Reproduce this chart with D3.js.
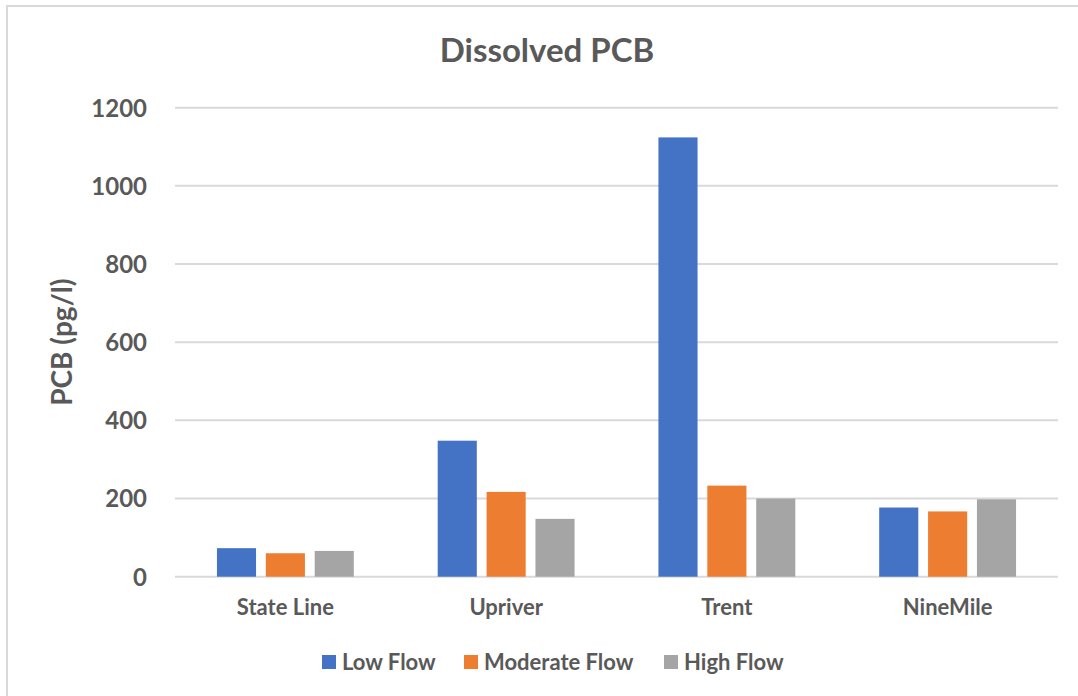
<!DOCTYPE html>
<html>
<head>
<meta charset="utf-8">
<script src="https://cdn.jsdelivr.net/npm/d3@7"></script>
<style>
  html, body { margin: 0; padding: 0; background: #fff; }
  svg { display: block; font-family: Lato, "Open Sans", sans-serif; }
</style>
</head>
<body>
<svg id="chart" width="1078" height="696"></svg>
<script>
const categories = ["State Line", "Upriver", "Trent", "NineMile"];
const seriesNames = ["Low Flow", "Moderate Flow", "High Flow"];
const lowFlow = [73, 348, 1124, 177];
const moderateFlow = [60, 217, 233, 167];
const highFlow = [66, 148, 200, 198];
const yTicks = [0, 200, 400, 600, 800, 1000, 1200];
const colors = ["#4472C4", "#ED7D31", "#A5A5A5"];
const chartTitle = "Dissolved PCB";
const yTitle = "PCB (pg/l)";

const seriesValues = [lowFlow, moderateFlow, highFlow];
const svg = d3.select("#chart");
const textColor = "#595959";

// chart border (left/top visible)
svg.append("rect").attr("x", 7).attr("y", 6).attr("width", 1090).attr("height", 700)
  .attr("fill", "#fff").attr("stroke", "#d9d9d9").attr("stroke-width", 2);

const plot = { left: 175, right: 1058, top: 107.7, bottom: 576.7 };

const x = d3.scaleBand().domain(categories).range([plot.left, plot.right]).padding(0);
const inner = d3.scaleBand().domain(seriesNames)
  .range([x.bandwidth() * 0.19, x.bandwidth() * 0.81]).paddingInner(0.2);
const y = d3.scaleLinear().domain([0, 1200]).range([plot.bottom, plot.top]);

// gridlines
svg.append("g").selectAll("line").data(yTicks).join("line")
  .attr("x1", plot.left).attr("x2", plot.right)
  .attr("y1", d => y(d)).attr("y2", d => y(d))
  .attr("stroke", "#d9d9d9").attr("stroke-width", 2);

// y axis labels
const yAxis = d3.axisLeft(y).tickValues(yTicks).tickFormat(d3.format("d")).tickSize(0).tickPadding(0);
const gy = svg.append("g").attr("transform", `translate(${plot.left - 28},0)`).call(yAxis);
gy.select(".domain").remove();
gy.selectAll("text").attr("fill", textColor).attr("font-size", 24).attr("font-weight", "bold")
  .attr("font-family", "Lato, sans-serif").attr("dy", "0.35em");

// bars
const groups = svg.append("g").selectAll("g").data(categories).join("g")
  .attr("transform", d => `translate(${x(d)},0)`);
groups.selectAll("rect").data((c, ci) => seriesNames.map((s, si) => ({ s, si, v: seriesValues[si][ci] })))
  .join("rect")
  .attr("x", d => inner(d.s)).attr("width", inner.bandwidth())
  .attr("y", d => y(d.v)).attr("height", d => y(0) - y(d.v))
  .attr("fill", d => colors[d.si]);

// x labels
const xAxis = d3.axisBottom(x).tickSize(0).tickPadding(0);
const gx = svg.append("g").attr("transform", `translate(0,${plot.bottom + 23})`).call(xAxis);
gx.select(".domain").remove();
gx.selectAll("text").attr("fill", textColor).attr("font-size", 22).attr("font-weight", "bold")
  .attr("font-family", "Lato, sans-serif");

// title
svg.append("text").attr("x", 547).attr("y", 62).attr("text-anchor", "middle")
  .attr("font-size", 33).attr("font-weight", "bold").attr("fill", textColor).text(chartTitle);

// y title
svg.append("text").attr("transform", `translate(72,${(plot.top + plot.bottom) / 2}) rotate(-90)`)
  .attr("text-anchor", "middle").attr("font-size", 28).attr("font-weight", "bold")
  .attr("fill", textColor).text(yTitle);

// legend
const legendX = [322, 464, 664];
const lg = svg.append("g").selectAll("g").data(seriesNames).join("g")
  .attr("transform", (d, i) => `translate(${legendX[i]},662)`);
lg.append("rect").attr("x", 0).attr("y", -7).attr("width", 14).attr("height", 14)
  .attr("fill", (d, i) => colors[i]);
lg.append("text").attr("x", 20).attr("y", 0).attr("dy", "0.35em")
  .attr("font-size", 22).attr("font-weight", "bold").attr("fill", textColor).text(d => d);
</script>
</body>
</html>
